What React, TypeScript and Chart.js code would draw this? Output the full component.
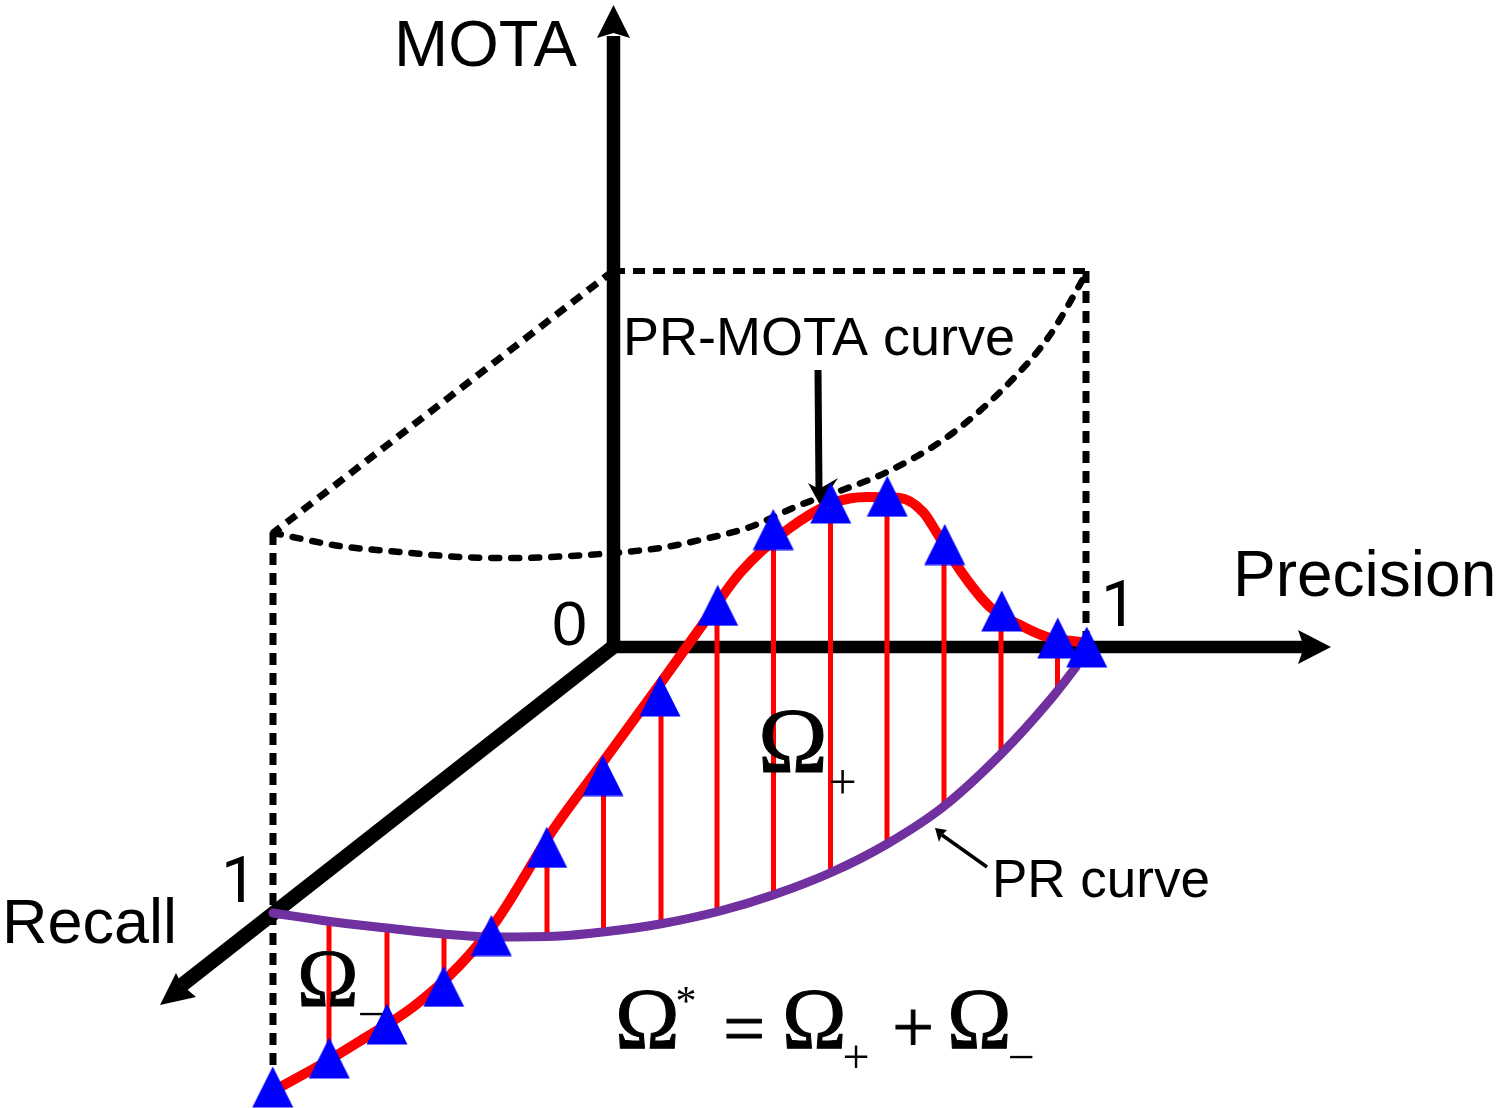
import React, { useEffect, useRef } from "react";
import { Chart, registerables } from "chart.js";

Chart.register(...registerables);

const W = 1496;
const H = 1108;

// Readings (horizontal, vertical)
const markerX = [272.7, 329.3, 387, 443.7, 491.3, 546.7, 603, 660, 717.7, 773.3, 830.7, 887.3, 944.7, 1001.7, 1057.7, 1086.7];
const markerY = [1087, 1058, 1024, 986.3, 935.5, 847.3, 775.5, 696, 605.3, 529.5, 503, 496.2, 544.5, 611, 638, 647];

const prMotaX = [275, 329, 360, 413, 460, 497, 553, 603, 660, 703, 740, 787, 833, 867, 900, 923, 937, 960, 990, 1020, 1047, 1080];
const prMotaY = [1090, 1060, 1041, 1007, 965, 920, 830, 762, 684, 624, 573, 530, 503, 497, 498, 512, 533, 570, 607, 625, 637, 642];

const prCurveX = [273, 330, 387, 443, 493, 560, 603, 660, 720, 773, 830, 887, 943, 1002, 1050, 1076];
const prCurveY = [913, 921.5, 928, 934, 937, 936, 932, 924, 911, 895, 873, 844, 807, 753, 700, 667];

const stemX = [329, 387, 444, 547, 603.5, 661, 717, 773.5, 830.5, 887, 944, 1001, 1057.5];
const stemTop = [1045, 1010, 970, 860, 790, 710, 620, 545, 520, 510, 560, 625, 655];
const stemBottom = [921, 928, 934, 936, 932, 924, 911, 895, 873, 844, 807, 753, 690];

const mppArcX = [273, 340, 400, 460, 520, 570, 613, 660, 700, 750, 800, 845, 887, 950, 1010, 1050, 1086];
const mppArcY = [533, 546, 552, 557, 558, 556, 553, 548, 540, 527, 505, 489, 472, 435, 382, 335, 274];

const frontLeftX = [273, 273];
const frontLeftY = [533, 1072];
const backRightX = [1086, 1086];
const backRightY = [271, 636];
const topEdgeX = [613, 1086];
const topEdgeY = [271, 271];
const sideEdgeX = [613, 273];
const sideEdgeY = [271, 533];

const motaAxisX = [613.5, 613.5];
const motaAxisY = [36, 650];
const precisionAxisX = [607, 1306];
const precisionAxisY = [647, 647];
const recallAxisX = [613, 182];
const recallAxisY = [647, 985];

const motaHeadX = [613.5, 597, 613.5, 630, 613.5];
const motaHeadY = [5, 38, 33, 38, 5];
const precisionHeadX = [1331, 1298, 1304, 1298, 1331];
const precisionHeadY = [647, 630, 647, 664, 647];
const recallHeadX = [160, 176, 182, 196, 160];
const recallHeadY = [1005, 973, 985, 997, 1005];

const pointerAX = [818, 819];
const pointerAY = [370, 492];
const pointerAHeadX = [820, 808, 819, 838, 820];
const pointerAHeadY = [505, 483, 489, 478, 505];
const pointerBX = [987, 942];
const pointerBY = [867, 835];
const pointerBHeadX = [935, 947, 942, 939, 935];
const pointerBHeadY = [828, 830, 835, 842, 828];

const SANS = '"Liberation Sans", Arial, sans-serif';
const SERIF = '"Liberation Serif", "Times New Roman", serif';

const labelTexts = ["MOTA", "Precision", "Recall", "0", "PR-MOTA curve", "PR curve"];
const labelX = [394, 1233, 2, 552, 623, 992];
const labelY = [66, 596, 943, 645, 355, 897];
const labelSizes = [65, 64, 63, 63, 54, 53];

const tickOnes = ["1", "1"];
const tickOneX = [1101, 221];
const tickOneY = [626, 902];

const omegaTexts = ["Ω", "Ω", "Ω", "Ω", "Ω"];
const omegaX = [758, 297, 615, 782, 947];
const omegaY = [772, 1006, 1048, 1048, 1048];
const omegaSizes = [94, 83, 87, 87, 87];

const symbolTexts = ["+", "−", "*", "=", "+", "+", "−"];
const symbolX = [842.5, 371, 686, 744, 913, 856, 1021];
const symbolY = [799, 1030, 1015, 1052.5, 1051.6, 1073, 1073];
const symbolSizes = [50, 48, 42, 74, 74, 48, 48];

const pts = (xs: number[], ys: number[]) => xs.map((x, i) => ({ x, y: ys[i] }));

function stems() {
  const out: { x: number; y: number | null }[] = [];
  stemX.forEach((x, i) => {
    out.push({ x, y: stemTop[i] }, { x, y: stemBottom[i] }, { x, y: null });
  });
  return out;
}

function triangleImage() {
  const c = document.createElement("canvas");
  c.width = 42;
  c.height = 42;
  const g = c.getContext("2d")!;
  g.fillStyle = "#0000FF";
  g.beginPath();
  g.moveTo(21, 0.5);
  g.lineTo(41.5, 41.5);
  g.lineTo(0.5, 41.5);
  g.closePath();
  g.fill();
  return c;
}

const textPlugin = {
  id: "picture-text",
  afterDatasetsDraw(chart: any) {
    const { ctx, scales } = chart;
    const sx = scales.x;
    const sy = scales.y;
    ctx.save();
    ctx.fillStyle = "#000";
    ctx.textBaseline = "alphabetic";
    ctx.textAlign = "left";
    labelTexts.forEach((t, i) => {
      ctx.font = `${labelSizes[i]}px ${SANS}`;
      ctx.fillText(t, sx.getPixelForValue(labelX[i]), sy.getPixelForValue(labelY[i]));
    });
    tickOnes.forEach((t, i) => {
      ctx.font = `64px Roboto, ${SANS}`;
      ctx.fillText(t, sx.getPixelForValue(tickOneX[i]), sy.getPixelForValue(tickOneY[i]));
    });
    ctx.strokeStyle = "#000";
    ctx.lineWidth = 1;
    omegaTexts.forEach((t, i) => {
      ctx.font = `${omegaSizes[i]}px ${SERIF}`;
      const x = sx.getPixelForValue(omegaX[i]);
      const y = sy.getPixelForValue(omegaY[i]);
      ctx.fillText(t, x, y);
      ctx.strokeText(t, x, y);
    });
    ctx.textAlign = "center";
    symbolTexts.forEach((t, i) => {
      ctx.font = `${symbolSizes[i]}px ${SERIF}`;
      const x = sx.getPixelForValue(symbolX[i]);
      const y = sy.getPixelForValue(symbolY[i]);
      ctx.fillText(t, x, y);
      if (symbolSizes[i] > 60) ctx.strokeText(t, x, y);
    });
    ctx.restore();
  },
};

export default function App() {
  const ref = useRef<HTMLCanvasElement | null>(null);

  useEffect(() => {
    if (!ref.current) return;
    const line = (xs: number[], ys: number[], color: string, width: number, order: number, extra: any = {}) => ({
      data: pts(xs, ys),
      showLine: true,
      borderColor: color,
      borderWidth: width,
      pointRadius: 0,
      tension: 0,
      order,
      ...extra,
    });
    const head = (xs: number[], ys: number[], order: number) =>
      line(xs, ys, "#000", 0, order, { fill: "shape", backgroundColor: "#000" });
    const dash = { borderDash: [12, 8], borderCapStyle: "butt" };
    const smooth = { cubicInterpolationMode: "monotone", borderCapStyle: "round" };

    const chart = new Chart(ref.current, {
      type: "scatter",
      data: {
        datasets: [
          {
            data: pts(markerX, markerY),
            pointStyle: triangleImage(),
            pointRadius: 20,
            showLine: false,
            order: 1,
          },
          line(prCurveX, prCurveY, "#7030A0", 9, 3, smooth),
          line(prMotaX, prMotaY, "#FF0000", 10, 4, smooth),
          { ...line([], [], "#FF0000", 5, 5), data: stems(), spanGaps: false },
          line(pointerAX, pointerAY, "#000", 7, 6),
          head(pointerAHeadX, pointerAHeadY, 6),
          line(pointerBX, pointerBY, "#000", 3.5, 3),
          head(pointerBHeadX, pointerBHeadY, 3),
          line(mppArcX, mppArcY, "#000", 6.5, 7, { ...smooth, borderDash: [8, 12] }),
          line(frontLeftX, frontLeftY, "#000", 7, 8, dash),
          line(backRightX, backRightY, "#000", 7, 8, dash),
          line(topEdgeX, topEdgeY, "#000", 6, 8, dash),
          line(sideEdgeX, sideEdgeY, "#000", 7, 8, dash),
          line(motaAxisX, motaAxisY, "#000", 13.5, 9),
          line(precisionAxisX, precisionAxisY, "#000", 12.5, 9),
          line(recallAxisX, recallAxisY, "#000", 14.5, 9),
          head(motaHeadX, motaHeadY, 9),
          head(precisionHeadX, precisionHeadY, 9),
          head(recallHeadX, recallHeadY, 9),
        ],
      },
      options: {
        animation: false,
        responsive: false,
        devicePixelRatio: 1,
        events: [],
        layout: { padding: 0, autoPadding: false },
        plugins: { legend: { display: false }, tooltip: { enabled: false } },
        scales: {
          x: { type: "linear", display: false, min: 0, max: W },
          y: { type: "linear", display: false, min: 0, max: H, reverse: true },
        },
      },
      plugins: [textPlugin],
    } as any);
    return () => chart.destroy();
  }, []);

  return (
    <div style={{ position: "fixed", left: 0, top: 0, width: W, height: H, background: "#fff" }}>
      <canvas ref={ref} width={W} height={H} style={{ display: "block", width: W, height: H }} />
    </div>
  );
}
